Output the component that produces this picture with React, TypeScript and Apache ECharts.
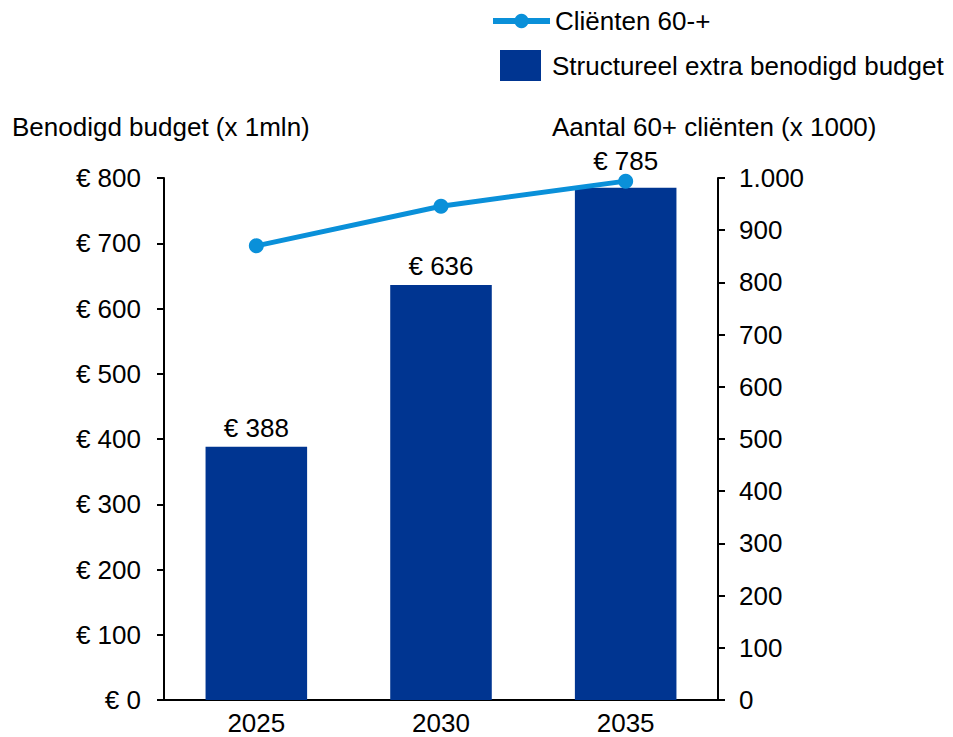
import React, { useEffect, useRef } from "react";
import * as echarts from "echarts";

const categories = ["2025", "2030", "2035"];
const budgetValues = [388, 636, 785];
const clientValues = [870, 946, 994];
const barName = "Structureel extra benodigd budget";
const lineName = "Cliënten 60-+";
const leftTitle = "Benodigd budget (x 1mln)";
const rightTitle = "Aantal 60+ cliënten (x 1000)";

const FONT = "Liberation Sans, Arial, sans-serif";
const BAR_COLOR = "#003591";
const LINE_COLOR = "#0A90D9";

export default function App() {
  const ref = useRef<HTMLDivElement>(null);
  useEffect(() => {
    if (!ref.current) return;
    const chart = echarts.init(ref.current, undefined, { renderer: "svg" });
    const txt = { fontFamily: FONT, fontSize: 26, color: "#000" };
    chart.setOption({
      animation: false,
      textStyle: { fontFamily: FONT },
      grid: { left: 164, right: 235, top: 178, bottom: 37 },
      legend: [
        {
          data: [lineName],
          left: 485,
          top: 3,
          itemWidth: 57,
          itemHeight: 18,
          itemGap: 8,
          itemStyle: { color: LINE_COLOR },
          lineStyle: { width: 6, color: LINE_COLOR },
          textStyle: { ...txt },
        },
        {
          data: [{ name: barName, icon: "rect" }],
          left: 495,
          top: 45,
          itemWidth: 41,
          itemHeight: 31,
          itemGap: 8,
          textStyle: { ...txt, padding: [0, 0, 0, 6] },
        },
      ],
      graphic: [
        {
          type: "text",
          left: 12,
          top: 114,
          style: { text: leftTitle, font: `26px ${FONT}`, fill: "#000" },
        },
        {
          type: "text",
          left: 552,
          top: 114,
          style: { text: rightTitle, font: `26px ${FONT}`, fill: "#000" },
        },
      ],
      xAxis: {
        type: "category",
        data: categories,
        axisLine: { show: true, lineStyle: { color: "#000", width: 2 } },
        axisTick: { show: false },
        axisLabel: { ...txt, margin: 10 },
      },
      yAxis: [
        {
          type: "value",
          min: 0,
          max: 800,
          interval: 100,
          splitLine: { show: false },
          axisLine: { show: true, lineStyle: { color: "#000", width: 2 } },
          axisTick: { show: true, length: 7, lineStyle: { color: "#000", width: 2 } },
          axisLabel: { ...txt, margin: 23, formatter: (v: number) => "€ " + v },
        },
        {
          type: "value",
          min: 0,
          max: 1000,
          interval: 100,
          position: "right",
          splitLine: { show: false },
          axisLine: { show: true, lineStyle: { color: "#000", width: 2 } },
          axisTick: { show: true, length: 7, lineStyle: { color: "#000", width: 2 } },
          axisLabel: {
            ...txt,
            margin: 21,
            formatter: (v: number) => (v >= 1000 ? Math.floor(v / 1000) + "." + String(v % 1000).padStart(3, "0") : String(v)),
          },
        },
      ],
      series: [
        {
          name: barName,
          type: "bar",
          data: budgetValues.map((v, i) =>
            i === budgetValues.length - 1 ? { value: v, label: { distance: 14 } } : v
          ),
          yAxisIndex: 0,
          barWidth: "55%",
          itemStyle: { color: BAR_COLOR },
          label: {
            show: true,
            position: "top",
            distance: 6,
            ...txt,
            formatter: (p: any) => "€ " + p.value,
          },
          z: 1,
        },
        {
          name: lineName,
          type: "line",
          data: clientValues,
          yAxisIndex: 1,
          symbol: "circle",
          symbolSize: 15,
          lineStyle: { color: LINE_COLOR, width: 5 },
          itemStyle: { color: LINE_COLOR },
          z: 3,
        },
      ],
    });
    return () => chart.dispose();
  }, []);
  return <div ref={ref} style={{ width: 953, height: 737, position: "absolute", left: 0, top: 0 }} />;
}
